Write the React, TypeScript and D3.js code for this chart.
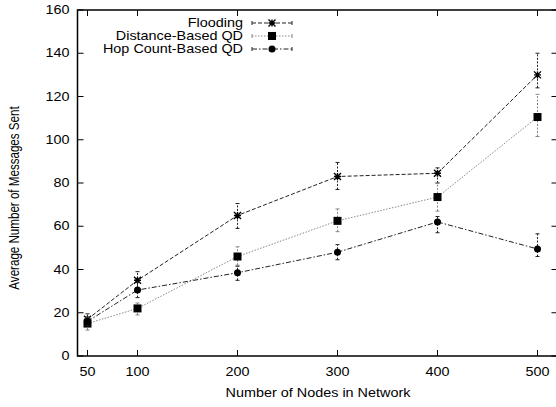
import { useEffect, useRef } from 'react'
import * as d3 from 'd3'

const nodes = [50, 100, 200, 300, 400, 500]

const floodingMean = [17, 35, 65, 83, 84.5, 130]
const floodingLow = [15, 31, 59, 77, 80, 124]
const floodingHigh = [19.5, 39, 70.5, 89.5, 87, 140]

const distanceMean = [15, 22, 46, 62.5, 73.5, 110.5]
const distanceLow = [12, 19, 42, 57.5, 67, 101.5]
const distanceHigh = [18, 24.5, 50.5, 68, 80, 121]

const hopMean = [16, 30.5, 38.5, 48, 62, 49.5]
const hopLow = [14, 27, 35, 44.5, 57, 46]
const hopHigh = [18, 34, 41.5, 51.5, 64.5, 56.5]

const seriesNames = ['Flooding', 'Distance-Based QD', 'Hop Count-Based QD']
const xTicks = [50, 100, 200, 300, 400, 500]
const yTicks = [0, 20, 40, 60, 80, 100, 120, 140, 160]

export default function App() {
  const svgRef = useRef<SVGSVGElement>(null)

  useEffect(() => {
    const w = 556
    const h = 407
    const left = 77.5
    const right = 557.5
    const top = 10
    const bottom = 356
    const font = '"Liberation Sans", Arial, sans-serif'
    const stretch = 1.2 // the original is wider than it is tall

    const svg = d3.select(svgRef.current)
      .attr('width', w)
      .attr('height', h)
      .style('display', 'block')
      .style('background', '#fff')
    svg.selectAll('*').remove()

    const x = d3.scaleLinear().domain([40, 520]).range([left, right])
    const y = d3.scaleLinear().domain([0, 160]).range([bottom, top])

    const label = (tx: number, ty: number, txt: string | number, anchor: string) =>
      svg.append('text')
        .attr('transform', `translate(${tx},${ty}) scale(${stretch},1)`)
        .attr('text-anchor', anchor).attr('dominant-baseline', 'central')
        .attr('font-family', font).attr('font-size', 12)
        .text(txt)

    // series styling
    const series = [
      { name: seriesNames[0], mean: floodingMean, lo: floodingLow, hi: floodingHigh, color: '#222', dash: '4,2', marker: 'star' },
      { name: seriesNames[1], mean: distanceMean, lo: distanceLow, hi: distanceHigh, color: '#888', dash: '1.5,1.5', marker: 'square' },
      { name: seriesNames[2], mean: hopMean, lo: hopLow, hi: hopHigh, color: '#222', dash: '5,2,1.5,2', marker: 'circle' },
    ]

    const drawMarker = (g: any, cx: number, cy: number, kind: string) => {
      if (kind === 'square') {
        g.append('rect').attr('x', cx - 4).attr('y', cy - 4).attr('width', 8).attr('height', 8).attr('fill', '#000')
      } else if (kind === 'circle') {
        g.append('circle').attr('cx', cx).attr('cy', cy).attr('r', 3.5).attr('fill', '#000')
      } else {
        const s = 3.5
        const p = `M${cx - s},${cy}L${cx + s},${cy}M${cx},${cy - s}L${cx},${cy + s}M${cx - s},${cy - s}L${cx + s},${cy + s}M${cx - s},${cy + s}L${cx + s},${cy - s}`
        g.append('path').attr('d', p).attr('stroke', '#000').attr('stroke-width', 1.4).attr('fill', 'none')
      }
    }

    const plot = svg.append('g')

    const line = d3.line<number>()
      .x((d, i) => x(nodes[i]))
      .y(d => y(d))

    series.forEach(s => {
      const g = plot.append('g')
      // error bars
      nodes.forEach((n, i) => {
        const cx = x(n)
        g.append('line')
          .attr('x1', cx).attr('x2', cx)
          .attr('y1', y(s.lo[i])).attr('y2', y(s.hi[i]))
          .attr('stroke', s.color).attr('stroke-dasharray', '2,1.5')
        ;[s.lo[i], s.hi[i]].forEach(v => {
          g.append('line')
            .attr('x1', cx - 2).attr('x2', cx + 2)
            .attr('y1', y(v)).attr('y2', y(v))
            .attr('stroke', s.color)
        })
      })
      g.append('path')
        .attr('d', line(s.mean))
        .attr('fill', 'none')
        .attr('stroke', s.color)
        .attr('stroke-width', 1)
        .attr('stroke-dasharray', s.dash)
      nodes.forEach((n, i) => drawMarker(g, x(n), y(s.mean[i]), s.marker))
    })

    // frame and ticks
    svg.append('rect')
      .attr('x', left).attr('y', top)
      .attr('width', right - left).attr('height', bottom - top)
      .attr('fill', 'none').attr('stroke', '#000').attr('stroke-width', 1.5)

    const tl = 6
    yTicks.forEach(t => {
      svg.append('line').attr('x1', left).attr('x2', left + tl).attr('y1', y(t)).attr('y2', y(t)).attr('stroke', '#000')
      svg.append('line').attr('x1', right - tl).attr('x2', right).attr('y1', y(t)).attr('y2', y(t)).attr('stroke', '#000')
      label(left - 8, y(t), t, 'end')
    })
    xTicks.forEach(t => {
      svg.append('line').attr('x1', x(t)).attr('x2', x(t)).attr('y1', bottom).attr('y2', bottom - tl).attr('stroke', '#000')
      svg.append('line').attr('x1', x(t)).attr('x2', x(t)).attr('y1', top).attr('y2', top + tl).attr('stroke', '#000')
      label(x(t), bottom + 16, t, 'middle')
    })

    // axis titles
    label(318, 393, 'Number of Nodes in Network', 'middle')
    svg.append('text')
      .attr('transform', `translate(14, ${(top + bottom) / 2 + 15}) rotate(-90) scale(1,${stretch})`)
      .attr('text-anchor', 'middle').attr('dominant-baseline', 'central')
      .attr('font-family', font).attr('font-size', 11.6)
      .text('Average Number of Messages Sent')

    // legend
    series.forEach((s, i) => {
      const ly = 23 + i * 13
      label(243, ly, s.name, 'end')
      const g = svg.append('g')
      g.append('line')
        .attr('x1', 252).attr('x2', 292).attr('y1', ly).attr('y2', ly)
        .attr('stroke', s.color).attr('stroke-dasharray', s.dash)
      ;[252, 292].forEach(ex => {
        g.append('line').attr('x1', ex).attr('x2', ex).attr('y1', ly - 2).attr('y2', ly + 2).attr('stroke', s.color)
      })
      drawMarker(g, 272, ly, s.marker)
    })
  }, [])

  return <svg ref={svgRef} style={{ position: 'absolute', left: 0, top: 0 }}></svg>
}
